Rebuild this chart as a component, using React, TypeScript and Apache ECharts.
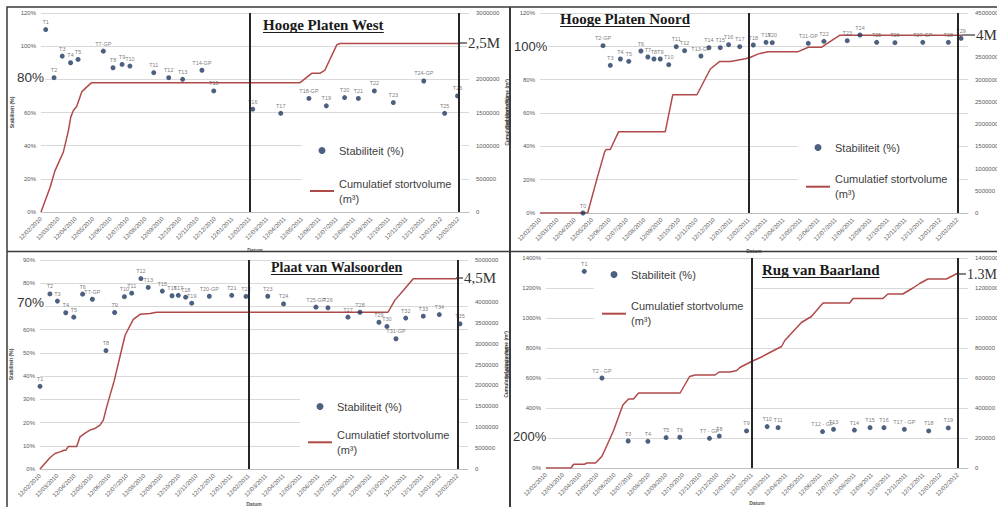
import React, { useEffect, useRef } from 'react';
import * as echarts from 'echarts';

// ---------- DATA ----------
const dateLabels = [
  '12/02/2010', '12/03/2010', '12/04/2010', '12/05/2010', '12/06/2010', '12/07/2010',
  '12/08/2010', '12/09/2010', '12/10/2010', '12/11/2010', '12/12/2010', '12/01/2011',
  '12/02/2011', '12/03/2011', '12/04/2011', '12/05/2011', '12/06/2011', '12/07/2011',
  '12/08/2011', '12/09/2011', '12/10/2011', '12/11/2011', '12/12/2011', '12/01/2012',
  '12/02/2012',
];

const STAB = 'Stabiliteit (%)';
const VOL = 'Cumulatief stortvolume (m³)';

// Hooge Platen West
const p1Labels = ['T1', 'T2', 'T3', 'T4', 'T5', 'T7-GP', 'T8', 'T9', 'T10', 'T11', 'T12', 'T13', 'T14-GP', 'T15', 'T16', 'T17', 'T18-GP', 'T19', 'T20', 'T21', 'T22', 'T23', 'T24-GP', 'T25', 'T26'];
const p1X = [0.27, 0.75, 1.22, 1.7, 2.13, 3.58, 4.14, 4.66, 5.11, 6.48, 7.34, 8.14, 9.25, 9.93, 12.17, 13.78, 15.4, 16.4, 17.45, 18.24, 19.16, 20.25, 22.0, 23.2, 23.94];
const p1Stab = [110, 81, 94, 90, 92, 97, 87, 89, 88, 84, 81, 80, 85.5, 73, 62, 59.5, 68.5, 64, 69, 68.5, 73, 66, 79, 59.5, 70];
const p1VolX = [0, 0.52, 0.8, 1.28, 1.57, 1.71, 1.86, 2.05, 2.34, 2.53, 2.91, 14.89, 15.56, 16.03, 16.32, 17.0, 17.18, 24.1];
const p1Vol = [0, 370000, 620000, 900000, 1220000, 1430000, 1530000, 1590000, 1810000, 1860000, 1950000, 1950000, 2090000, 2090000, 2140000, 2520000, 2540000, 2540000];

// Hooge Platen Noord
const p2Labels = ['T0', 'T2-GP', 'T3', 'T4', 'T5', 'T6', 'T7', 'T8', 'T9', 'T10', 'T11', 'T12', 'T13-GP', 'T14', 'T15', 'T16', 'T17', 'T18', 'T19', 'T20', 'T21-GP', 'T22', 'T23', 'T24', 'T25', 'T26', 'T27-GP', 'T28', 'T29'];
const p2X = [2.47, 3.62, 4.04, 4.62, 5.1, 5.8, 6.2, 6.55, 6.91, 7.4, 7.83, 8.31, 9.25, 9.71, 10.36, 10.84, 11.48, 12.26, 12.99, 13.35, 15.42, 16.32, 17.66, 18.39, 19.35, 20.4, 22.0, 23.47, 24.2];
const p2Stab = [0, 100.4, 88.6, 92.4, 91, 97.2, 93.6, 92.4, 92.4, 89, 99.8, 97.4, 94.2, 99.2, 99.2, 101, 99.8, 100.8, 102.4, 102.2, 101.8, 103, 103.4, 106.8, 102.4, 102.2, 102.4, 102.4, 104.8];
const p2VolX = [0, 2.74, 3.28, 3.72, 3.81, 4.04, 4.52, 7.2, 7.63, 9.02, 9.79, 10.33, 10.94, 11.8, 12.07, 12.55, 13.12, 14.84, 15.42, 16.19, 17.24, 24.25];
const p2Vol = [0, 0, 780000, 1380000, 1430000, 1430000, 1830000, 1830000, 2660000, 2660000, 3240000, 3410000, 3410000, 3470000, 3500000, 3580000, 3630000, 3630000, 3730000, 3730000, 4000000, 4000000];

// Plaat van Walsoorden
const p3Labels = ['T1', 'T2', 'T3', 'T4', 'T5', 'T6', 'T7-GP', 'T8', 'T9', 'T10', 'T11', 'T12', 'T13', 'T15', 'T16', 'T17', 'T18', 'T19', 'T20-GP', 'T21', 'T22', 'T23', 'T24', 'T25-GP', 'T26', 'T27', 'T28', 'T29', 'T30', 'T31-GP', 'T32', 'T33', 'T34', 'T35'];
const p3X = [0, 0.57, 1.0, 1.48, 1.94, 2.45, 3.01, 3.79, 4.29, 4.85, 5.27, 5.8, 6.22, 7.03, 7.59, 7.95, 8.37, 8.72, 9.73, 11.02, 11.84, 13.09, 14.0, 15.86, 16.55, 17.7, 18.39, 19.48, 19.94, 20.46, 21.02, 22.03, 22.95, 24.14];
const p3Stab = [35.6, 75.4, 72.3, 67.3, 65.4, 75.3, 73.1, 51, 67.4, 74.2, 75.7, 82, 78.2, 76.6, 74.6, 74.8, 74, 71.4, 74.4, 74.8, 74.3, 74.4, 71.1, 69.7, 69.4, 65.4, 67.5, 63.2, 61.4, 56.1, 65, 65.8, 66.5, 62.5];
const p3VolX = [0, 0.57, 0.86, 1.15, 1.38, 1.49, 1.63, 2.11, 2.3, 2.59, 2.87, 3.16, 3.45, 3.64, 3.83, 4.27, 4.89, 5.36, 5.75, 6.32, 6.7, 20.0, 20.4, 20.88, 21.45, 23.95];
const p3Vol = [0, 270000, 370000, 410000, 450000, 450000, 540000, 540000, 770000, 860000, 930000, 970000, 1050000, 1170000, 1480000, 2120000, 3200000, 3580000, 3700000, 3720000, 3750000, 3750000, 4040000, 4270000, 4550000, 4550000];

// Rug van Baarland
const p4Labels = ['T1', 'T2 - GP', 'T3', 'T4', 'T5', 'T6', 'T7 - GP', 'T8', 'T9', 'T10', 'T11', 'T12 - GP', 'T13', 'T14', 'T15', 'T16', 'T17 - GP', 'T18', 'T19'];
const p4X = [2.23, 3.26, 4.79, 5.94, 7.0, 7.8, 9.53, 10.1, 11.69, 12.89, 13.53, 16.12, 16.76, 17.98, 18.89, 19.7, 20.89, 22.31, 23.45];
const p4Stab = [1311, 600, 180, 178, 203, 205, 198, 213, 247, 276, 269, 243, 258, 253, 269, 269, 258, 247, 267];
const p4VolX = [0, 1.46, 1.61, 2.23, 2.39, 2.89, 3.26, 3.55, 3.94, 4.48, 4.81, 5.1, 5.4, 7.82, 8.37, 8.7, 9.86, 10.09, 10.73, 11.12, 11.3, 11.98, 12.56, 13.05, 13.73, 13.92, 14.89, 15.47, 16.15, 17.7, 17.9, 19.64, 19.93, 20.8, 21.39, 21.78, 22.26, 23.34, 24.02];
const p4Vol = [0, 0, 25000, 25000, 33000, 33000, 78000, 150000, 250000, 420000, 460000, 460000, 500000, 500000, 610000, 620000, 620000, 640000, 640000, 650000, 670000, 710000, 740000, 770000, 810000, 850000, 970000, 1010000, 1100000, 1100000, 1130000, 1130000, 1160000, 1160000, 1200000, 1230000, 1260000, 1260000, 1300000];

const titles = ['Hooge Platen West', 'Hooge Platen Noord', 'Plaat van Walsoorden', 'Rug van Baarland'];
const markers = [12, 24];

// ---------- LAYOUT / STYLE ----------
const SANS = 'Liberation Sans';
const SERIF = 'Liberation Serif';
const DOT = '#1f3a5f';
const RED = '#b04a48';

const panelData = [
  { names: p1Labels, x: p1X, y: p1Stab, vx: p1VolX, v: p1Vol, yMax: 120, yInt: 20, rMax: 3000000, rInt: 500000, lHide: 80, rHide: 2500000 },
  { names: p2Labels, x: p2X, y: p2Stab, vx: p2VolX, v: p2Vol, yMax: 120, yInt: 20, rMax: 4500000, rInt: 500000, lHide: 100, rHide: 4000000 },
  { names: p3Labels, x: p3X, y: p3Stab, vx: p3VolX, v: p3Vol, yMax: 90, yInt: 10, rMax: 5000000, rInt: 500000, lHide: 70, rHide: 4500000 },
  { names: p4Labels, x: p4X, y: p4Stab, vx: p4VolX, v: p4Vol, yMax: 1400, yInt: 200, rMax: 1400000, rInt: 200000, lHide: 200, rHide: -1 },
];

const layout = [
  { left: 41, top: 13, width: 428, height: 199, lGap: 27, rName: true, dGap: 35, lg: { left: 302, top: 123, gap: 18, pad: [20, 10, 4, 8] }, title: { x: 263, y: 25, size: 15 } },
  { left: 540, top: 13, width: 428, height: 200, lGap: 31, rName: false, dGap: 35, lg: { left: 798, top: 120, gap: 16.7, pad: [20, 10, 4, 8] }, title: { x: 560, y: 19, size: 15 } },
  { left: 40, top: 260, width: 428, height: 209, lGap: 27, rName: true, dGap: 31, lg: { left: 300, top: 379, gap: 13.3, pad: [20, 10, 4, 8] }, title: { x: 271, y: 267, size: 14 } },
  { left: 546, top: 258, width: 422, height: 210, lGap: 37, rName: false, dGap: 29, lg: { left: 594, top: 261, gap: 16.7, pad: [6, 10, 4, 8] }, title: { x: 762, y: 270, size: 15 } },
];

const annotations = [
  { text: '80%', x: 16, y: 77, font: SANS, size: 13.5 },
  { text: '100%', x: 513, y: 46, font: SANS, size: 13 },
  { text: '70%', x: 16, y: 302, font: SANS, size: 13.5 },
  { text: '200%', x: 512, y: 436, font: SANS, size: 13 },
  { text: '2,5M', x: 467, y: 43, font: SERIF, size: 15 },
  { text: '4M', x: 975, y: 35, font: SERIF, size: 15 },
  { text: '4,5M', x: 463, y: 278, font: SERIF, size: 15 },
  { text: '1.3M', x: 966, y: 274, font: SERIF, size: 14 },
];
const dashes = [
  { x1: 460, x2: 467, y: 43 },
  { x1: 962, x2: 975, y: 35 },
  { x1: 456, x2: 463, y: 278 },
  { x1: 958, x2: 966, y: 274 },
];

const LINE_ICON = 'path://M0,0 L24,0 L24,2 L0,2 Z';

function measure(text: string, font: string) {
  try {
    const c = document.createElement('canvas').getContext('2d');
    if (!c) return text.length * 7;
    c.font = font;
    return c.measureText(text).width;
  } catch {
    return text.length * 7;
  }
}

function buildOption() {
  const grid: any[] = [];
  const xAxis: any[] = [];
  const yAxis: any[] = [];
  const series: any[] = [];
  const legend: any[] = [];
  const graphic: any[] = [];

  panelData.forEach((d, i) => {
    const L = layout[i];
    grid.push({ left: L.left, top: L.top, width: L.width, height: L.height, containLabel: false, outerBoundsMode: 'none' });
    xAxis.push({
      type: 'value', gridIndex: i, min: 0, max: 24.6, interval: 1,
      axisLabel: {
        rotate: 45, fontSize: 6, color: '#595959', margin: 6, showMaxLabel: false,
        formatter: (v: number) => (Number.isInteger(v) && dateLabels[v] ? dateLabels[v] : ''),
      },
      axisLine: { show: true, lineStyle: { color: '#bfbfbf' } },
      axisTick: { show: false },
      splitLine: { show: false },
      name: 'Datum', nameLocation: 'middle', nameGap: L.dGap,
      nameTextStyle: { fontSize: 5, color: '#595959', fontWeight: 'bold' },
    });
    yAxis.push({
      type: 'value', gridIndex: i, position: 'left', min: 0, max: d.yMax, interval: d.yInt,
      axisLabel: {
        formatter: (v: number) => (Math.abs(v - d.lHide) < 1e-6 ? '' : `${v}%`),
        fontSize: 6, color: '#595959', margin: 5,
      },
      splitLine: { show: true, lineStyle: { color: '#d9d9d9', width: 1 } },
      axisLine: { show: false }, axisTick: { show: false },
      name: STAB, nameLocation: 'middle', nameRotate: 90, nameGap: L.lGap,
      nameTextStyle: { fontSize: 5, color: '#404040', fontWeight: 'bold' },
    });
    yAxis.push({
      type: 'value', gridIndex: i, position: 'right', min: 0, max: d.rMax, interval: d.rInt,
      axisLabel: {
        formatter: (v: number) => (Math.abs(v - d.rHide) < 1e-3 ? '' : String(v)),
        fontSize: 6, color: '#595959', margin: 7,
      },
      splitLine: { show: false }, axisLine: { show: false }, axisTick: { show: false },
      name: L.rName ? VOL : '', nameLocation: 'middle', nameRotate: 90, nameGap: 35,
      nameTextStyle: { fontSize: 5, color: '#404040', fontWeight: 'bold' },
    });
    series.push({
      type: 'line', name: VOL, xAxisIndex: i, yAxisIndex: 2 * i + 1,
      data: d.vx.map((x, k) => [x, d.v[k]]),
      symbol: 'none', showSymbol: false,
      lineStyle: { color: RED, width: 1.5 }, itemStyle: { color: RED }, z: 2,
    });
    series.push({
      type: 'scatter', name: STAB, xAxisIndex: i, yAxisIndex: 2 * i,
      data: d.names.map((n, k) => ({ name: n, value: [d.x[k], d.y[k]] })),
      symbolSize: 5, itemStyle: { color: DOT },
      label: { show: true, formatter: '{b}', position: 'top', distance: 2, fontSize: 5.5, color: '#595959' },
      markLine: {
        silent: true, symbol: ['none', 'none'], label: { show: false },
        lineStyle: { color: '#262626', width: 2, type: 'solid' },
        data: markers.map((m) => ({ xAxis: m })),
      },
      z: 3,
    });
    legend.push({
      orient: 'vertical', left: L.lg.left, top: L.lg.top, padding: L.lg.pad,
      itemGap: L.lg.gap, itemWidth: 24, itemHeight: 7, selectedMode: false,
      backgroundColor: '#ffffff',
      data: [{ name: STAB, icon: 'circle' }, { name: VOL, icon: LINE_ICON, itemStyle: { color: RED } }],
      formatter: (n: string) => (n === VOL ? 'Cumulatief stortvolume\n(m³)' : n),
      textStyle: { fontSize: 11, lineHeight: 15, color: '#404040', fontFamily: SANS },
    });

    // title with underline
    const tw = measure(titles[i], `bold ${L.title.size}px "${SERIF}"`);
    graphic.push({
      type: 'text', x: L.title.x, y: L.title.y, z: 100,
      style: { text: titles[i], fontSize: L.title.size, fontWeight: 'bold', fontFamily: SERIF, fill: '#1a1a1a', verticalAlign: 'middle' },
    });
    graphic.push({
      type: 'line', z: 100,
      shape: { x1: L.title.x, y1: L.title.y + 7.5, x2: L.title.x + tw, y2: L.title.y + 7.5 },
      style: { stroke: '#1a1a1a', lineWidth: 1 },
    });
  });

  annotations.forEach((a) => {
    graphic.push({
      type: 'text', x: a.x, y: a.y, z: 100,
      style: {
        text: a.text, fontSize: a.size, fontFamily: a.font, fill: '#333333', verticalAlign: 'middle',
        backgroundColor: '#ffffff', padding: [0, 1],
      },
    });
  });
  dashes.forEach((s) => {
    graphic.push({ type: 'line', z: 99, shape: { x1: s.x1, y1: s.y, x2: s.x2, y2: s.y }, style: { stroke: '#333', lineWidth: 1.2 } });
  });

  // panel frames
  graphic.push({ type: 'rect', z: 101, shape: { x: 7, y: 7, width: 995, height: 505 }, style: { fill: 'none', stroke: '#3a3a3a', lineWidth: 1.5 } });
  graphic.push({ type: 'line', z: 101, shape: { x1: 510, y1: 7, x2: 510, y2: 507 }, style: { stroke: '#3a3a3a', lineWidth: 2 } });
  graphic.push({ type: 'line', z: 101, shape: { x1: 7, y1: 251.5, x2: 997, y2: 251.5 }, style: { stroke: '#3a3a3a', lineWidth: 1.5 } });

  return {
    animation: false,
    backgroundColor: '#ffffff',
    textStyle: { fontFamily: SANS },
    grid, xAxis, yAxis, series, legend, graphic,
  };
}

export default function App() {
  const ref = useRef<HTMLDivElement>(null);
  useEffect(() => {
    if (!ref.current) return;
    const chart = echarts.init(ref.current, null, { renderer: 'svg' });
    chart.setOption(buildOption() as any);
    return () => chart.dispose();
  }, []);
  return (
    <div
      ref={ref}
      style={{ position: 'fixed', left: 0, top: 0, width: 997, height: 507, background: '#fff' }}
    />
  );
}
